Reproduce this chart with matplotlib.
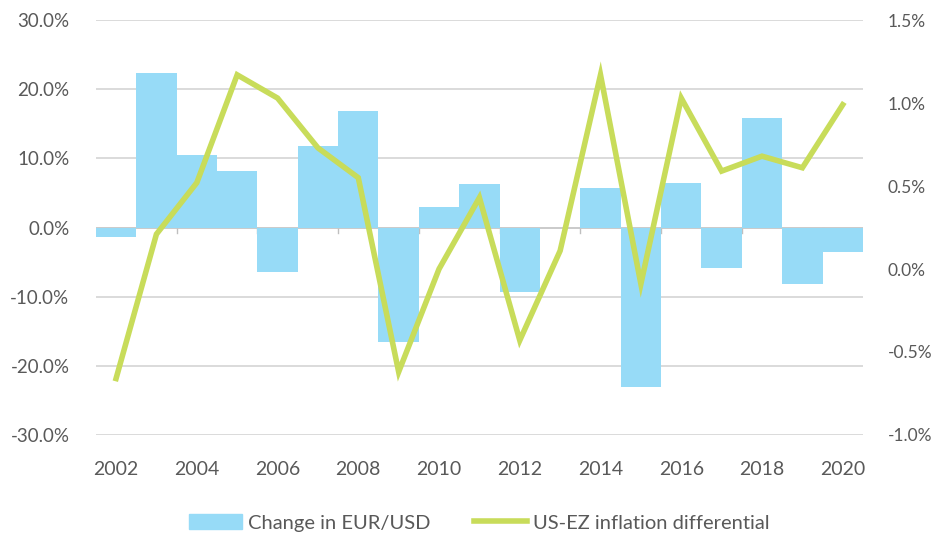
import matplotlib.pyplot as plt
import matplotlib.ticker as mticker
from matplotlib.patches import Patch
from matplotlib.lines import Line2D

plt.rcParams['font.family'] = ['Lato', 'DejaVu Sans']

# data
years = list(range(2002, 2021))
eurusd_change = [-1.3, 22.4, 10.5, 8.2, -6.5, 11.8, 16.8, -16.5, 2.9, 6.3,
                 -9.3, 0.0, 5.7, -23.1, 6.5, -5.9, 15.9, -8.1, -3.5]
inflation_diff = [-0.66, 0.21, 0.52, 1.17, 1.03, 0.73, 0.55, -0.62, 0.0, 0.43,
                  -0.43, 0.11, 1.17, -0.09, 1.03, 0.59, 0.68, 0.61, 0.99]
tick_years = [str(y) for y in years[::2]]

bar_color = '#97DBF7'
line_color = '#C8DC5A'
text_color = '#595959'
grid_color = '#D4D4D4'

fig = plt.figure(figsize=(9.4, 5.43), dpi=100)
ax = fig.add_axes([0.102, 0.199, 0.816, 0.764])
ax2 = ax.twinx()

x = list(range(len(years)))
ax.bar(x, eurusd_change, width=1.0, color=bar_color, zorder=2)
ax.set_xlim(-0.5, len(years) - 0.5)
ax.set_ylim(-30, 30)
ax.set_yticks(range(-30, 31, 10))
ax.yaxis.set_major_formatter(mticker.FuncFormatter(lambda v, p: f'{v:.1f}%'))
ax.grid(axis='y', color=grid_color, lw=1.2, zorder=0)
ax.set_axisbelow(True)

# category-style x axis: labels every second year, tick marks between categories
ax.set_xticks(x[::2])
ax.set_xticklabels(tick_years)
ax.tick_params(axis='x', length=0, pad=19, labelsize=14, labelcolor=text_color)
ax.tick_params(axis='y', length=0, pad=19, labelsize=13.5, labelcolor=text_color)
for b in [i + 1.5 for i in x[::2][:-1]]:
    ax.plot([b, b], [0, -0.8], color='#BFBFBF', lw=1, zorder=1)
ax.axhline(0, color='#C8C8C8', lw=1.2, zorder=1)

ax2.plot(x, inflation_diff, color=line_color, lw=4, solid_joinstyle='miter', zorder=3)
ax2.set_ylim(-1.0, 1.5)
ax2.set_yticks([-1.0, -0.5, 0.0, 0.5, 1.0, 1.5])
ax2.yaxis.set_major_formatter(mticker.FuncFormatter(lambda v, p: f'{v:.1f}%'))
ax2.tick_params(axis='y', length=0, pad=18, labelsize=12.5, labelcolor=text_color)

for a in (ax, ax2):
    for s in a.spines.values():
        s.set_visible(False)

handles = [Patch(color=bar_color), Line2D([0], [0], color=line_color, lw=4)]
labels = ['Change in EUR/USD', 'US-EZ inflation differential']
fig.legend(handles, labels, loc='center', bbox_to_anchor=(0.51, 0.037), ncol=2,
           frameon=False, fontsize=14.5, labelcolor=text_color, handlelength=2.6,
           handleheight=0.8, handletextpad=0.3, columnspacing=2.2)

fig.savefig('out.png', dpi=100)
